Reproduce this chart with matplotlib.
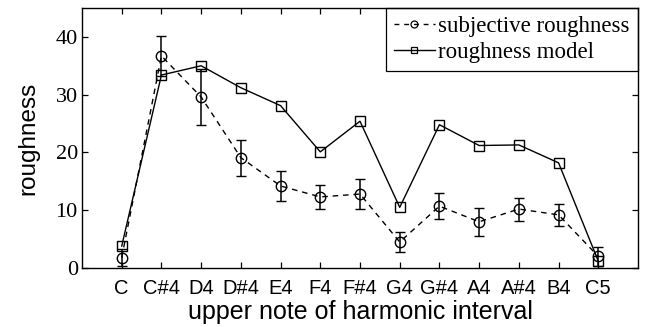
import matplotlib
matplotlib.use('Agg')
import matplotlib.pyplot as plt
from matplotlib.lines import Line2D
import numpy as np

notes = ['C', 'C#4', 'D4', 'D#4', 'E4', 'F4', 'F#4', 'G4', 'G#4', 'A4', 'A#4', 'B4', 'C5']
subjective = [1.8, 36.7, 29.6, 19.1, 14.2, 12.3, 12.8, 4.5, 10.7, 8.0, 10.2, 9.2, 2.0]
subjective_err = [1.5, 3.4, 4.9, 3.1, 2.6, 2.1, 2.6, 1.7, 2.2, 2.4, 2.0, 1.9, 1.6]
model = [3.8, 33.4, 35.0, 31.2, 28.1, 20.1, 25.4, 10.5, 24.8, 21.2, 21.3, 18.2, 1.2]

x = np.arange(1, len(notes) + 1)

fig = plt.figure(figsize=(6.49, 3.27), dpi=100)
ax = fig.add_axes([82/649, 1 - 268/327, (638-82)/649, (268-8)/327])

ax.errorbar(x, subjective, yerr=subjective_err, fmt='--o', color='black',
            lw=1.0, ms=7.5, mfc='none', mew=1.0, capsize=3.5, elinewidth=1.1,
            dashes=(4, 3.5))
ax.plot(x, model, '-s', color='black', lw=1.0, ms=7, mfc='none', mew=1.0)

ax.set_xlim(0, 14)
ax.set_ylim(0, 45)
ax.set_xticks(x)
ax.set_xticklabels(notes, fontfamily='Liberation Sans', fontsize=14.5)
ax.set_yticks([0, 10, 20, 30, 40])
ax.set_yticklabels(['0', '10', '20', '30', '40'], fontfamily='Liberation Serif', fontsize=16)
ax.tick_params(direction='in', top=True, right=True, length=4, width=0.9)
ax.tick_params(axis='x', pad=8)
ax.tick_params(axis='y', pad=3)
for s in ax.spines.values():
    s.set_linewidth(1.0)

ax.set_xlabel('upper note of harmonic interval', fontfamily='Liberation Sans', fontsize=18, labelpad=1)
ax.set_ylabel('roughness', fontfamily='Liberation Sans', fontsize=17.5, labelpad=12)

# legend handles without the error bars, like the original
handles = [
    Line2D([], [], color='black', lw=1.0, ls='--', dashes=(3.5, 3.5), marker='o', ms=5, mfc='none', mew=0.9),
    Line2D([], [], color='black', lw=1.0, ls='-', marker='s', ms=5, mfc='none', mew=0.9),
]
leg = ax.legend(handles, ['subjective roughness', 'roughness model'], loc='upper right',
                prop={'family': 'Liberation Serif', 'size': 16.5},
                fancybox=False, edgecolor='black', framealpha=1, borderaxespad=0,
                handlelength=1.8, handletextpad=0.15, borderpad=0.35, labelspacing=0.2)
leg.get_frame().set_linewidth(0.9)
leg.set_zorder(2.4)

fig.savefig('out.png', dpi=100)
